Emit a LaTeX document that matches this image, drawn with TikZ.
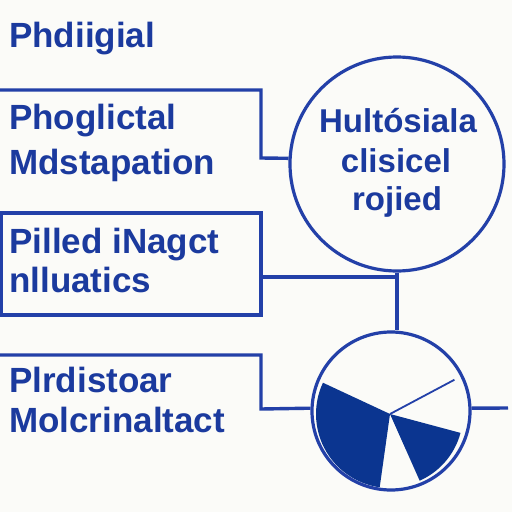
\documentclass[tikz,border=0pt]{standalone}
\usepackage{fontspec}
\setmainfont{Liberation Sans}
\definecolor{ln}{HTML}{2340A8}
\definecolor{tx}{HTML}{1B3A9E}
\definecolor{pf}{HTML}{0B3590}
\definecolor{bg}{HTML}{FBFBF8}
\begin{document}
\begin{tikzpicture}[x=1pt,y={(0,-1pt)},
  wire/.style={draw=ln,line width=3.4pt},
  lbl/.style={text=tx,anchor=base west,inner sep=0pt,font=\fontsize{35}{40}\bfseries\selectfont},
  clbl/.style={text=tx,anchor=base,inner sep=0pt,font=\fontsize{33}{39}\bfseries\selectfont},
  ring/.style={circle,draw=ln,line width=3.2pt,inner sep=0pt}]
\fill[bg] (0,0) rectangle (512,512);
\useasboundingbox (0,0) rectangle (512,512);
% title
\node[lbl] (title) at (9,47) {Phdiigial};
% box 1 texts
\node[lbl] (t1a) at (9,129) {Phoglictal};
\node[lbl] (t1b) at (9,174) {Mdstapation};
% box 2 texts
\node[lbl] (t2a) at (9,253) {Pilled iNagct};
\node[lbl] (t2b) at (9,292) {nlluatics};
% box 3 texts
\node[lbl] (t3a) at (9,392) {Plrdistoar};
\node[lbl] (t3b) at (9,432) {Molcrinaltact};
% circle 1
\node[ring,minimum size=214pt] (c1) at (397,164) {};
\node[clbl] (c1a) at (398,132) {Hultósiala};
\node[clbl] (c1b) at (396,172) {clisicel};
\node[clbl] (c1c) at (397,210) {rojied};
% pie circle
\node[ring,minimum size=158pt] (pie) at (391,411) {};
\coordinate (pc) at (390,414);
\fill[pf] (pc) -- ++(-155:74) arc[start angle=-155,end angle=-262,radius=74] -- cycle;
\fill[pf] (pc) -- ++(-294:73) arc[start angle=-294,end angle=-345,radius=73] -- cycle;
\draw[ln,line width=1.8pt] (pc) -- ++(-28:73);
% connectors
\coordinate (b1tl) at (0,90);
\coordinate (b1tr) at (261,90);
\coordinate (b1br) at (261,158);
\draw[wire] (b1tl) -- (b1tr) -- (b1br) -- (c1.177);
\coordinate (b2tl) at (1,213);
\coordinate (b2br) at (261,315);
\draw[wire] (b2tl) rectangle (b2br);
\coordinate (b2r) at (261,277);
\coordinate (j2) at (397,277);
\draw[wire] (b2r) -- (j2);
\draw[wire] (c1.south) -- (pie.north -| c1.south);
\coordinate (b3tl) at (0,355);
\coordinate (b3tr) at (261,355);
\coordinate (b3br) at (261,409);
\draw[wire] (b3tl) -- (b3tr) -- (b3br) -- (pie.178);
\coordinate (stub) at (508,408);
\draw[wire] (pie.2) -- (stub);
\end{tikzpicture}
\end{document}
